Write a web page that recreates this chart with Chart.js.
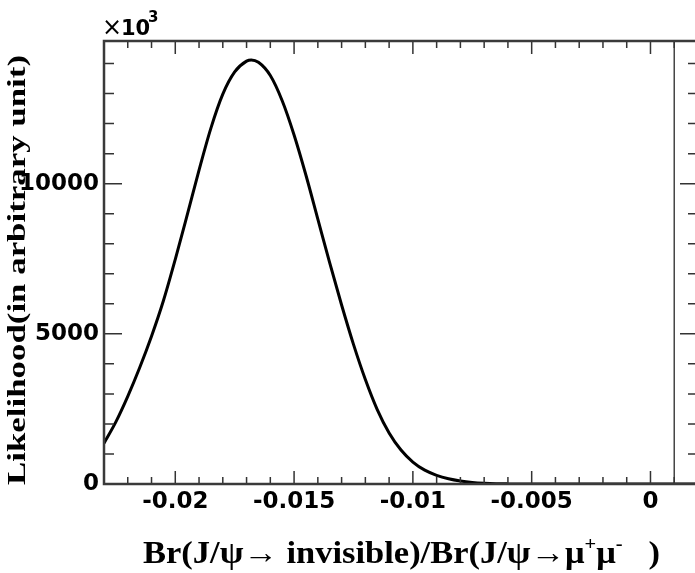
<!DOCTYPE html>
<html>
<head>
<meta charset="utf-8">
<script src="https://cdn.jsdelivr.net/npm/chart.js@4"></script>
<style>
  html, body { margin: 0; padding: 0; background: #fff; }
  #wrap { width: 695px; height: 573px; overflow: hidden; position: relative; }
  #chart { display: block; }
</style>
</head>
<body>
<div id="wrap"><canvas id="chart" width="710" height="573"></canvas></div>
<script>
// likelihood curve (every 0.0005)
const likelihoodX = [-0.0230, -0.0225, -0.0220, -0.0215, -0.0210, -0.0205, -0.0200, -0.0195, -0.0190, -0.0185,
                     -0.0180, -0.0175, -0.0170, -0.0168, -0.0165, -0.0160, -0.0155, -0.0150, -0.0145, -0.0140,
                     -0.0135, -0.0130, -0.0125, -0.0120, -0.0115, -0.0110, -0.0105, -0.0100, -0.0095, -0.0090,
                     -0.0085, -0.0080, -0.0075, -0.0070, -0.0065, -0.0060, -0.0050, 0.0020];
const likelihoodY = [1360, 2070, 2920, 3870, 4920, 6100, 7480, 8950, 10450, 11850,
                     12980, 13720, 14080, 14120, 14040, 13600, 12760, 11620, 10280, 8820,
                     7360, 5960, 4650, 3480, 2480, 1700, 1130, 730, 460, 290,
                     175, 100, 52, 25, 10, 4, 0, 0];

// vertical marker line near zero
const limitLineX = 0.001;

const xTickValues = [-0.02, -0.015, -0.01, -0.005, 0];
const xTickLabels = ['-0.02', '-0.015', '-0.01', '-0.005', '0'];
const yTickValues = [0, 5000, 10000];
const yTickLabels = ['0', '5000', '10000'];

const X_MIN = -0.023, X_MAX = 0.002;
const Y_MIN = 0, Y_MAX = 14750;

const tickFont = { family: '"DejaVu Sans"', weight: 'bold', size: 23 };

// frame + ROOT style inward ticks on all four sides
const frameTicks = {
      id: 'frameTicks',
      afterDatasetsDraw(chart) {
            const { ctx, chartArea: a, scales: { x, y } } = chart;
            ctx.save();
            ctx.strokeStyle = '#333';
            ctx.lineWidth = 1.5;
            ctx.beginPath();
            for (let k = Math.round(X_MIN * 1000); k <= Math.round(X_MAX * 1000); k++) {
                  const px = x.getPixelForValue(k / 1000);
                  const len = k % 5 === 0 ? 13 : 7;
                  ctx.moveTo(px, a.bottom); ctx.lineTo(px, a.bottom - len);
                  ctx.moveTo(px, a.top); ctx.lineTo(px, a.top + len);
            }
            for (let k = 0; k * 1000 <= Y_MAX; k++) {
                  const py = y.getPixelForValue(k * 1000);
                  const len = k % 5 === 0 ? 18 : 10;
                  ctx.moveTo(a.left, py); ctx.lineTo(a.left + len, py);
                  ctx.moveTo(a.right, py); ctx.lineTo(a.right - len, py);
            }
            ctx.stroke();
            ctx.lineWidth = 2.5;
            ctx.strokeStyle = '#3a3a3a';
            ctx.strokeRect(a.left, a.top, a.width, a.height);
            ctx.restore();
      },
      afterDraw(chart) {
            const ctx = chart.ctx;
            ctx.save();
            ctx.fillStyle = '#000';
            ctx.textBaseline = 'alphabetic';

            // x10^3 multiplier
            ctx.textAlign = 'left';
            ctx.font = '24px "DejaVu Sans"';
            ctx.fillText('\u00d7', 102, 35);
            ctx.font = 'bold 21px "DejaVu Sans"';
            ctx.fillText('10', 121, 35);
            ctx.font = 'bold 15px "DejaVu Sans"';
            ctx.fillText('3', 148, 22);

            // x title with superscripts, stretched to the measured width
            const mainFont = 'bold 32px "Liberation Serif"';
            const supFont = 'bold 19px "Liberation Serif"';
            const pieces = [
                  { t: 'Br(J/\u03c8\u2192 invisible)/Br(J/\u03c8\u2192\u03bc', f: mainFont, dy: 0 },
                  { t: '+', f: supFont, dy: -13 },
                  { t: '\u03bc', f: mainFont, dy: 0 },
                  { t: '-', f: supFont, dy: -13 },
                  { t: '   )', f: mainFont, dy: 0 }
            ];
            let w = 0;
            pieces.forEach(p => { ctx.font = p.f; p.w = ctx.measureText(p.t).width; w += p.w; });
            ctx.save();
            ctx.translate(143, 563);
            ctx.scale(517 / w, 1);
            let cx = 0;
            pieces.forEach(p => { ctx.font = p.f; ctx.fillText(p.t, cx, p.dy); cx += p.w; });
            ctx.restore();

            // y title
            ctx.save();
            ctx.font = 'bold 26px "Liberation Serif"';
            const yt = 'Likelihood(in arbitrary unit)';
            const yw = ctx.measureText(yt).width;
            ctx.translate(25, 270);
            ctx.rotate(-Math.PI / 2);
            ctx.scale(430 / yw, 1);
            ctx.textAlign = 'center';
            ctx.fillText(yt, 0, 0);
            ctx.restore();

            ctx.restore();
      }
};

function drawLikelihoodChart() {
      const ctx = document.getElementById('chart').getContext('2d');
      const curve = likelihoodX.map((v, i) => ({ x: v, y: likelihoodY[i] }));

      new Chart(ctx, {
            type: 'line',
            data: {
                  datasets: [{
                        data: curve,
                        borderColor: '#000',
                        borderWidth: 3,
                        pointRadius: 0,
                        fill: false,
                        cubicInterpolationMode: 'monotone'
                  }, {
                        data: [{ x: limitLineX, y: Y_MIN }, { x: limitLineX, y: Y_MAX }],
                        borderColor: '#444',
                        borderWidth: 1.5,
                        pointRadius: 0,
                        fill: false
                  }]
            },
            options: {
                  responsive: false,
                  animation: false,
                  layout: { padding: { top: 41, right: 12, left: 0, bottom: 0 } },
                  scales: {
                        x: {
                              type: 'linear',
                              min: X_MIN,
                              max: X_MAX,
                              grid: { display: false, drawTicks: false },
                              border: { display: false },
                              afterBuildTicks: s => { s.ticks = xTickValues.map(v => ({ value: v })); },
                              afterFit: s => { s.height = 89; },
                              ticks: {
                                    font: tickFont,
                                    color: '#000',
                                    padding: 4,
                                    maxRotation: 0,
                                    autoSkip: false,
                                    callback: (v, i) => xTickLabels[i]
                              }
                        },
                        y: {
                              type: 'linear',
                              min: Y_MIN,
                              max: Y_MAX,
                              grid: { display: false, drawTicks: false },
                              border: { display: false },
                              afterBuildTicks: s => { s.ticks = yTickValues.map(v => ({ value: v })); },
                              afterFit: s => { s.width = 104; },
                              ticks: {
                                    font: tickFont,
                                    color: '#000',
                                    padding: 5,
                                    callback: (v, i) => yTickLabels[i]
                              }
                        }
                  },
                  plugins: {
                        legend: { display: false },
                        tooltip: { enabled: false }
                  }
            },
            plugins: [frameTicks]
      });
}

drawLikelihoodChart();
</script>
</body>
</html>
